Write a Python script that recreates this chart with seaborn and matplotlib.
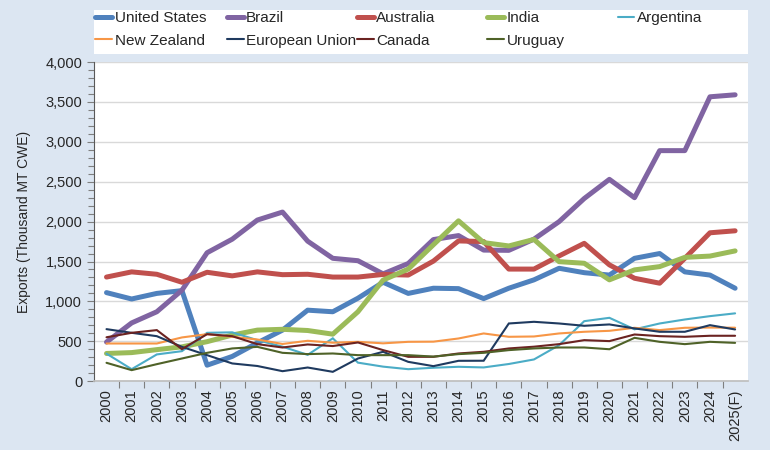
import numpy as np
import pandas as pd
import matplotlib
matplotlib.use("Agg")
import matplotlib.pyplot as plt
from matplotlib.ticker import MultipleLocator, FuncFormatter, FixedLocator
import seaborn as sns

years = [str(y) for y in range(2000, 2025)] + ["2025(F)"]

united_states = [1110, 1030, 1100, 1135, 200, 310, 480, 640, 890, 870, 1040, 1240,
                 1100, 1165, 1160, 1035, 1165, 1270, 1415, 1360, 1330, 1540, 1600,
                 1370, 1330, 1165]
brazil = [490, 730, 870, 1140, 1610, 1780, 2020, 2120, 1755, 1540, 1510, 1345, 1475,
          1775, 1825, 1643, 1640, 1780, 2000, 2290, 2530, 2300, 2890, 2890, 3565, 3590]
australia = [1305, 1370, 1340, 1240, 1365, 1320, 1370, 1335, 1340, 1305, 1305, 1338,
             1330, 1505, 1758, 1750, 1405, 1405, 1570, 1728, 1458, 1290, 1228, 1540,
             1860, 1885]
india = [347, 358, 395, 430, 495, 578, 640, 650, 635, 589, 870, 1267, 1405, 1710,
         2010, 1737, 1695, 1777, 1498, 1478, 1270, 1395, 1436, 1552, 1568, 1633]
argentina = [345, 150, 335, 376, 606, 612, 514, 432, 330, 537, 232, 182, 150, 168,
             180, 172, 215, 272, 451, 752, 794, 650, 723, 773, 815, 850]
new_zealand = [472, 472, 472, 548, 589, 556, 522, 466, 506, 482, 493, 474, 493, 495,
               535, 598, 556, 560, 598, 619, 631, 669, 640, 669, 672, 670]
european_union = [652, 606, 564, 430, 326, 222, 190, 125, 171, 117, 284, 368, 242,
                  188, 255, 256, 723, 744, 723, 694, 711, 661, 619, 619, 702, 648]
canada = [550, 606, 640, 401, 589, 564, 464, 422, 460, 440, 485, 389, 305, 305, 347,
          368, 410, 432, 464, 514, 502, 585, 564, 556, 569, 569]
uruguay = [230, 138, 213, 284, 355, 410, 430, 355, 339, 347, 326, 326, 326, 308, 339,
           355, 389, 410, 422, 422, 400, 543, 493, 464, 493, 480]

series = [
    ("United States", united_states, "#4f81bd", 3.6),
    ("Brazil", brazil, "#8064a2", 3.6),
    ("Australia", australia, "#c0504d", 3.6),
    ("India", india, "#9bbb59", 3.6),
    ("Argentina", argentina, "#4bacc6", 1.5),
    ("New Zealand", new_zealand, "#f79646", 1.5),
    ("European Union", european_union, "#1f3a5f", 1.5),
    ("Canada", canada, "#6b2321", 1.5),
    ("Uruguay", uruguay, "#4f6228", 1.5),
]

bg = "#dce6f2"
sns.set_theme(style="white")
plt.rcParams["font.family"] = ["Liberation Sans", "DejaVu Sans"]

fig = plt.figure(figsize=(7.7, 4.5), dpi=100, facecolor=bg)
ax = fig.add_axes([0.122, 0.153, 0.849, 0.709])
ax.set_facecolor("white")

pos = np.arange(len(years))
for name, vals, color, lw in series:
    sns.lineplot(x=pos, y=vals, ax=ax, color=color, linewidth=lw, label=name,
                 solid_joinstyle="miter" if lw < 2 else "round")

ax.set_xlim(-0.5, len(years) - 0.5)
ax.set_ylim(0, 4000)
ax.yaxis.set_major_locator(MultipleLocator(500))
ax.yaxis.set_minor_locator(MultipleLocator(100))
ax.yaxis.set_major_formatter(FuncFormatter(lambda v, p: f"{int(v):,}"))
ax.grid(axis="y", which="major", color="#d9d9d9", linewidth=1.0)
ax.set_axisbelow(True)

ax.set_xticks(pos)
ax.set_xticklabels(years, rotation=90)
ax.xaxis.set_minor_locator(FixedLocator(pos[:-1] + 0.5))
ax.tick_params(axis="x", which="major", length=0, pad=6, labelsize=10.5, colors="#262626")
ax.tick_params(axis="x", which="minor", length=5, width=0.8, color="#7f7f7f", direction="out")
ax.tick_params(axis="y", which="major", length=5, width=0.8, color="#7f7f7f",
               labelsize=10.5, labelcolor="#262626", direction="out")
ax.tick_params(axis="y", which="minor", length=4, width=0.8, color="#7f7f7f", direction="out")
ax.tick_params(bottom=True, left=True, which="both")

for side in ["top", "right"]:
    ax.spines[side].set_visible(False)
ax.spines["left"].set_color("#595959")
ax.spines["bottom"].set_color("#bfbfbf")
ax.spines["left"].set_linewidth(0.8)

ax.set_xlabel("")
ax.set_ylabel("Exports (Thousand MT CWE)", fontsize=10, color="#262626", labelpad=10)

handles, labels = ax.get_legend_handles_labels()
ax.get_legend().remove()

# white legend band, then one small legend per column (Excel-style even spacing)
band = plt.Rectangle((0.122, 0.88), 0.849, 0.098, transform=fig.transFigure,
                     facecolor="white", edgecolor="none", zorder=0)
fig.patches.append(band)
col_x = [0.124, 0.295, 0.464, 0.633, 0.802]
for c, x in enumerate(col_x):
    idx = [i for i in (c, c + 5) if i < len(handles)]
    leg = fig.legend([handles[i] for i in idx], [labels[i] for i in idx],
                     loc="upper left", bbox_to_anchor=(x, 0.975),
                     prop=dict(size=11), frameon=False,
                     handlelength=1.1, handletextpad=0.15,
                     borderaxespad=0, labelspacing=0.55, borderpad=0.0)
    for h in leg.get_lines():
        h.set_solid_capstyle("round")

fig.savefig("out.png", dpi=100, facecolor=bg)
